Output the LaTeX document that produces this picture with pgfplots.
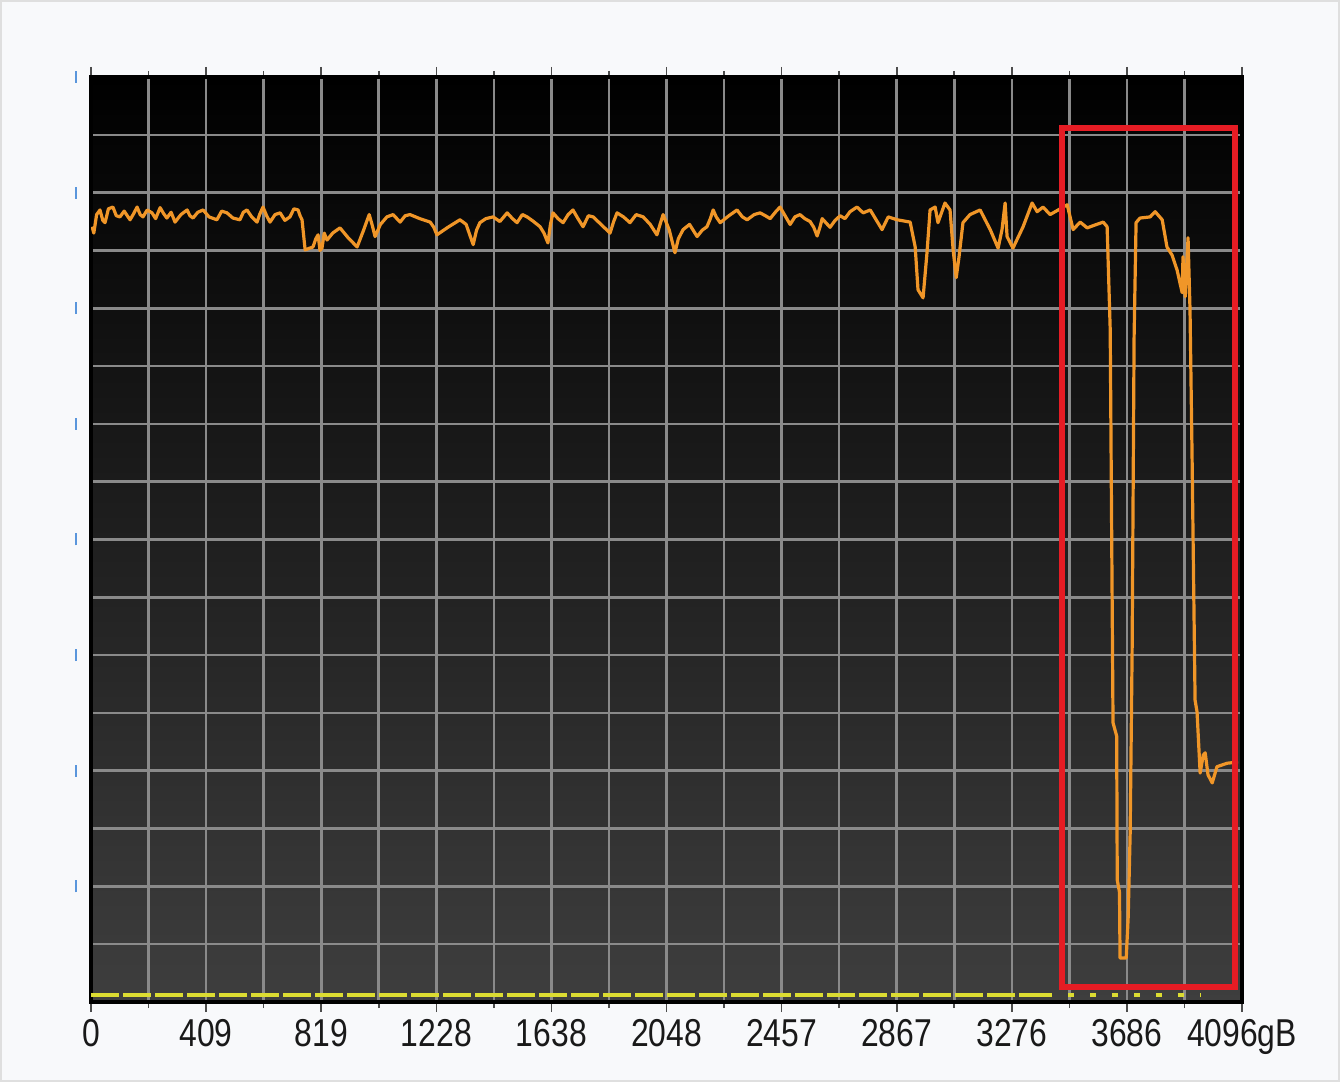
\documentclass[border=0pt]{standalone}
\usepackage{pgfplots}
\pgfplotsset{compat=1.18}
\usepackage{fontspec}
\setmainfont{Liberation Sans}[FakeStretch=0.82]

\definecolor{pagebg}{RGB}{248,249,251}
\definecolor{gridc}{RGB}{138,138,138}
\definecolor{orangeline}{RGB}{240,150,40}
\definecolor{yell}{RGB}{220,220,50}
\definecolor{boxred}{RGB}{230,28,36}
\definecolor{tickblue}{RGB}{90,150,220}
\definecolor{bgmid}{RGB}{24,24,24}
\definecolor{bgbot}{RGB}{62,62,62}

\begin{document}
\begin{tikzpicture}
\fill[pagebg] (-45.5bp,-40bp) rectangle (624.5bp,501bp);
\draw[gray!25, line width=0.8bp] (-45.1bp,-39.6bp) rectangle (624.1bp,500.6bp);

\begin{axis}[at={(0,0)}, anchor=south west, scale only axis,
    width=575.5bp, height=462.5bp,
    xmin=0, xmax=4096, ymin=0, ymax=16,
    axis background/.style={top color=black, middle color=bgmid, bottom color=bgbot},
    axis line style={black, line width=2bp},
    xtick={0,409.6,819.2,1228.8,1638.4,2048,2457.6,2867.2,3276.8,3686.4,4096},
    xticklabels={0,409,819,1228,1638,2048,2457,2867,3276,3686,4096gB},
    minor x tick num=1,
    ytick={2,4,...,16}, minor ytick={1,3,...,15},
    yticklabel={\textcolor{tickblue}{\rule[-3bp]{0.9bp}{6bp}}},
    yticklabel style={inner sep=0pt, xshift=-2bp},
    grid=both,
    major grid style={gridc, line width=1.3bp},
    minor grid style={gridc, line width=1.3bp},
    tick align=outside, major tick length=5bp, minor tick length=3bp,
    xtick style={black!70, line width=0.8bp}, ytick style={draw=none},
    xticklabel style={font=\fontsize{19.5}{22}\selectfont, text=black!90},
    /pgf/number format/assume math mode=true]

% lower trace (yellow)
\addplot[yell, line width=1.8bp, dash pattern=on 14bp off 2bp] coordinates {(0,0.12) (3400,0.12)};
\addplot[yell, line width=1.8bp, dash pattern=on 3bp off 8bp] coordinates {(3400,0.12) (3950,0.12)};

% main trace (orange)
\addplot[orangeline, line width=1.6bp, line join=round] coordinates {
(4,13.41) (10,13.30) (20,13.62) (32,13.70) (42,13.52) (50,13.48) (62,13.72) (78,13.75)
(90,13.60) (103,13.58) (118,13.68) (139,13.53) (150,13.62) (164,13.75) (175,13.62) (185,13.58)
(200,13.70) (217,13.65) (230,13.55) (246,13.74) (258,13.64) (270,13.56) (285,13.66) (299,13.49)
(320,13.62) (342,13.70) (352,13.60) (363,13.56) (380,13.66) (399,13.70) (420,13.58) (448,13.53)
(465,13.68) (484,13.65) (505,13.56) (530,13.53) (542,13.66) (555,13.70) (572,13.58) (591,13.49)
(600,13.62) (612,13.75) (625,13.60) (637,13.49) (655,13.62) (673,13.65) (690,13.52) (708,13.58)
(722,13.72) (737,13.70) (744,13.60) (751,13.53) (762,13.01) (790,13.06) (800,13.20) (808,13.27)
(815,13.00) (822,13.04) (830,13.30) (840,13.18) (860,13.30) (886,13.39) (915,13.22) (947,13.06)
(970,13.35) (990,13.62) (1000,13.45) (1011,13.24) (1030,13.45) (1053,13.58) (1075,13.62) (1100,13.49)
(1118,13.60) (1135,13.62) (1170,13.55) (1207,13.49) (1220,13.40) (1231,13.27) (1270,13.40) (1313,13.53)
(1335,13.45) (1360,13.10) (1372,13.35) (1384,13.48) (1405,13.55) (1431,13.58) (1455,13.50) (1481,13.65)
(1500,13.55) (1516,13.48) (1535,13.62) (1552,13.58) (1575,13.50) (1598,13.41) (1612,13.30) (1626,13.13)
(1635,13.45) (1644,13.65) (1662,13.55) (1680,13.48) (1698,13.62) (1715,13.70) (1733,13.55) (1751,13.41)
(1770,13.60) (1787,13.58) (1815,13.45) (1847,13.30) (1860,13.50) (1872,13.65) (1895,13.58) (1918,13.48)
(1940,13.62) (1965,13.58) (1990,13.45) (2014,13.27) (2025,13.45) (2036,13.62) (2058,13.35) (2078,12.96)
(2090,13.20) (2107,13.36) (2130,13.45) (2157,13.24) (2175,13.35) (2192,13.41) (2204,13.55) (2214,13.70)
(2225,13.58) (2239,13.48) (2270,13.60) (2299,13.70) (2318,13.58) (2335,13.53) (2360,13.62) (2381,13.65)
(2400,13.60) (2417,13.55) (2435,13.66) (2452,13.75) (2470,13.60) (2488,13.45) (2505,13.58) (2523,13.62)
(2540,13.55) (2559,13.50) (2572,13.40) (2584,13.25) (2594,13.40) (2602,13.55) (2615,13.48) (2630,13.40)
(2648,13.52) (2666,13.60) (2683,13.55) (2701,13.67) (2726,13.75) (2748,13.65) (2773,13.70) (2815,13.36)
(2837,13.58) (2869,13.53) (2915,13.49) (2933,13.06) (2943,12.32) (2961,12.18) (2975,12.96) (2986,13.70)
(3004,13.75) (3014,13.48) (3039,13.82) (3057,13.70) (3068,13.01) (3079,12.53) (3089,12.89) (3103,13.48)
(3128,13.62) (3164,13.70) (3200,13.36) (3228,13.04) (3242,13.36) (3253,13.82) (3260,13.24) (3281,13.04)
(3317,13.41) (3349,13.82) (3367,13.67) (3388,13.75) (3413,13.62) (3442,13.70) (3474,13.79) (3495,13.36)
(3520,13.49) (3545,13.39) (3573,13.44) (3602,13.49) (3616,13.41) (3627,11.63) (3637,4.83) (3650,4.60)
(3652,2.11) (3660,1.90) (3662,0.76) (3684,0.76) (3691,1.47) (3698,2.92) (3705,6.09) (3712,11.50)
(3719,13.48) (3733,13.56) (3769,13.58) (3787,13.67) (3812,13.53) (3829,13.06) (3847,12.92) (3865,12.66)
(3883,12.27) (3886,12.89) (3894,12.20) (3904,13.22) (3911,11.97) (3918,9.55) (3929,5.22) (3936,5.02)
(3947,3.96) (3958,4.27) (3965,4.31) (3975,3.93) (3990,3.79) (4007,4.07) (4043,4.13) (4082,4.15)
};

% highlight box
\draw[boxred, line width=2.8bp] (axis cs:3456,0.26) rectangle (axis cs:4071,15.12);
\end{axis}
\end{tikzpicture}
\end{document}
